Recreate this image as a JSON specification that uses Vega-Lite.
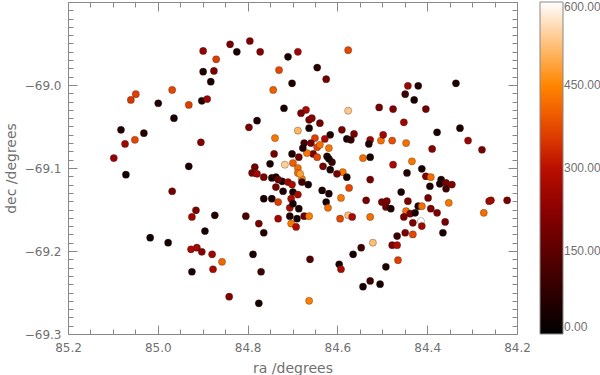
{
  "$schema": "https://vega.github.io/schema/vega-lite/v6.json",
  "width": 449,
  "height": 332,
  "autosize": {"type": "none"},
  "padding": {"left": 68, "top": 2, "right": 83, "bottom": 41},
  "background": "white",
  "config": {
    "view": {"stroke": null},
    "font": "DejaVu Sans",
    "axis": {
      "grid": false,
      "domainColor": "#888888",
      "tickColor": "#888888",
      "labelColor": "#707070",
      "labelFontSize": 12,
      "titleColor": "#707070",
      "titleFontSize": 14,
      "titleFontWeight": "normal",
      "labelOverlap": false,
      "labelFlush": false,
      "labelBound": false
    }
  },
  "data": {
    "values": [
      {"ra": 84.839, "dec": -68.951, "v": 190},
      {"ra": 84.795, "dec": -68.947, "v": 200},
      {"ra": 84.824, "dec": -68.960, "v": 40},
      {"ra": 84.772, "dec": -68.960, "v": 210},
      {"ra": 84.899, "dec": -68.959, "v": 240},
      {"ra": 84.870, "dec": -68.969, "v": 360},
      {"ra": 84.899, "dec": -68.984, "v": 50},
      {"ra": 84.875, "dec": -68.983, "v": 200},
      {"ra": 84.882, "dec": -68.996, "v": 40},
      {"ra": 84.968, "dec": -69.006, "v": 370},
      {"ra": 85.049, "dec": -69.011, "v": 360},
      {"ra": 85.060, "dec": -69.018, "v": 350},
      {"ra": 84.999, "dec": -69.022, "v": 60},
      {"ra": 84.931, "dec": -69.024, "v": 360},
      {"ra": 84.902, "dec": -69.019, "v": 60},
      {"ra": 84.890, "dec": -69.017, "v": 250},
      {"ra": 84.964, "dec": -69.040, "v": 40},
      {"ra": 85.082, "dec": -69.054, "v": 50},
      {"ra": 85.031, "dec": -69.058, "v": 60},
      {"ra": 85.073, "dec": -69.071, "v": 260},
      {"ra": 85.051, "dec": -69.066, "v": 370},
      {"ra": 84.904, "dec": -69.069, "v": 210},
      {"ra": 85.098, "dec": -69.088, "v": 240},
      {"ra": 85.071, "dec": -69.108, "v": 30},
      {"ra": 84.931, "dec": -69.098, "v": 40},
      {"ra": 84.797, "dec": -69.051, "v": 200},
      {"ra": 84.779, "dec": -69.043, "v": 50},
      {"ra": 84.730, "dec": -68.982, "v": 370},
      {"ra": 84.743, "dec": -69.006, "v": 400},
      {"ra": 84.701, "dec": -68.998, "v": 50},
      {"ra": 84.710, "dec": -68.966, "v": 40},
      {"ra": 84.688, "dec": -68.960, "v": 260},
      {"ra": 84.719, "dec": -69.028, "v": 40},
      {"ra": 84.739, "dec": -69.064, "v": 430},
      {"ra": 84.688, "dec": -69.055, "v": 510},
      {"ra": 84.741, "dec": -69.083, "v": 190},
      {"ra": 84.701, "dec": -69.083, "v": 50},
      {"ra": 84.686, "dec": -69.087, "v": 180},
      {"ra": 84.674, "dec": -69.070, "v": 110},
      {"ra": 84.750, "dec": -69.095, "v": 40},
      {"ra": 84.784, "dec": -69.099, "v": 180},
      {"ra": 84.717, "dec": -69.096, "v": 540},
      {"ra": 84.699, "dec": -69.094, "v": 400},
      {"ra": 84.688, "dec": -69.100, "v": 420},
      {"ra": 84.790, "dec": -69.106, "v": 190},
      {"ra": 84.779, "dec": -69.107, "v": 260},
      {"ra": 84.764, "dec": -69.111, "v": 200},
      {"ra": 84.746, "dec": -69.112, "v": 40},
      {"ra": 84.737, "dec": -69.111, "v": 50},
      {"ra": 84.723, "dec": -69.116, "v": 40},
      {"ra": 84.732, "dec": -69.114, "v": 170},
      {"ra": 84.710, "dec": -69.117, "v": 260},
      {"ra": 84.688, "dec": -69.106, "v": 420},
      {"ra": 84.679, "dec": -69.113, "v": 440},
      {"ra": 84.737, "dec": -69.123, "v": 190},
      {"ra": 84.721, "dec": -69.128, "v": 50},
      {"ra": 84.701, "dec": -69.120, "v": 280},
      {"ra": 84.699, "dec": -69.129, "v": 40},
      {"ra": 84.688, "dec": -69.132, "v": 270},
      {"ra": 84.764, "dec": -69.137, "v": 40},
      {"ra": 84.746, "dec": -69.137, "v": 40},
      {"ra": 84.732, "dec": -69.141, "v": 360},
      {"ra": 84.703, "dec": -69.137, "v": 280},
      {"ra": 84.706, "dec": -69.148, "v": 270},
      {"ra": 84.686, "dec": -69.149, "v": 40},
      {"ra": 84.699, "dec": -69.143, "v": 40},
      {"ra": 84.706, "dec": -69.158, "v": 50},
      {"ra": 84.690, "dec": -69.161, "v": 40},
      {"ra": 84.674, "dec": -69.158, "v": 180},
      {"ra": 84.663, "dec": -69.158, "v": 440},
      {"ra": 84.703, "dec": -69.167, "v": 430},
      {"ra": 84.692, "dec": -69.171, "v": 280},
      {"ra": 84.732, "dec": -69.161, "v": 260},
      {"ra": 84.804, "dec": -69.158, "v": 120},
      {"ra": 84.775, "dec": -69.167, "v": 190},
      {"ra": 84.764, "dec": -69.178, "v": 50},
      {"ra": 84.788, "dec": -69.204, "v": 40},
      {"ra": 84.770, "dec": -69.225, "v": 100},
      {"ra": 84.841, "dec": -69.255, "v": 210},
      {"ra": 84.775, "dec": -69.263, "v": 40},
      {"ra": 84.663, "dec": -69.260, "v": 440},
      {"ra": 84.661, "dec": -69.210, "v": 130},
      {"ra": 84.968, "dec": -69.128, "v": 190},
      {"ra": 84.915, "dec": -69.151, "v": 200},
      {"ra": 84.924, "dec": -69.159, "v": 250},
      {"ra": 84.873, "dec": -69.157, "v": 60},
      {"ra": 84.895, "dec": -69.176, "v": 40},
      {"ra": 85.017, "dec": -69.184, "v": 30},
      {"ra": 84.977, "dec": -69.190, "v": 40},
      {"ra": 84.926, "dec": -69.198, "v": 270},
      {"ra": 84.913, "dec": -69.196, "v": 260},
      {"ra": 84.902, "dec": -69.201, "v": 220},
      {"ra": 84.879, "dec": -69.204, "v": 260},
      {"ra": 84.857, "dec": -69.213, "v": 410},
      {"ra": 84.924, "dec": -69.225, "v": 40},
      {"ra": 84.877, "dec": -69.222, "v": 270},
      {"ra": 84.576, "dec": -68.958, "v": 370},
      {"ra": 84.645, "dec": -68.979, "v": 60},
      {"ra": 84.625, "dec": -68.993, "v": 180},
      {"ra": 84.443, "dec": -69.001, "v": 250},
      {"ra": 84.420, "dec": -69.001, "v": 50},
      {"ra": 84.449, "dec": -69.011, "v": 100},
      {"ra": 84.429, "dec": -69.018, "v": 40},
      {"ra": 84.336, "dec": -68.998, "v": 50},
      {"ra": 84.576, "dec": -69.031, "v": 530},
      {"ra": 84.507, "dec": -69.027, "v": 190},
      {"ra": 84.476, "dec": -69.029, "v": 200},
      {"ra": 84.403, "dec": -69.029, "v": 180},
      {"ra": 84.452, "dec": -69.045, "v": 260},
      {"ra": 84.378, "dec": -69.057, "v": 40},
      {"ra": 84.327, "dec": -69.052, "v": 50},
      {"ra": 84.309, "dec": -69.067, "v": 250},
      {"ra": 84.278, "dec": -69.078, "v": 190},
      {"ra": 84.389, "dec": -69.077, "v": 220},
      {"ra": 84.670, "dec": -69.030, "v": 270},
      {"ra": 84.681, "dec": -69.034, "v": 200},
      {"ra": 84.663, "dec": -69.042, "v": 190},
      {"ra": 84.657, "dec": -69.040, "v": 220},
      {"ra": 84.639, "dec": -69.046, "v": 180},
      {"ra": 84.663, "dec": -69.052, "v": 40},
      {"ra": 84.590, "dec": -69.054, "v": 190},
      {"ra": 84.616, "dec": -69.060, "v": 50},
      {"ra": 84.563, "dec": -69.059, "v": 200},
      {"ra": 84.579, "dec": -69.065, "v": 40},
      {"ra": 84.570, "dec": -69.066, "v": 90},
      {"ra": 84.527, "dec": -69.066, "v": 250},
      {"ra": 84.530, "dec": -69.071, "v": 50},
      {"ra": 84.503, "dec": -69.067, "v": 420},
      {"ra": 84.498, "dec": -69.060, "v": 260},
      {"ra": 84.478, "dec": -69.067, "v": 380},
      {"ra": 84.447, "dec": -69.070, "v": 420},
      {"ra": 84.543, "dec": -69.088, "v": 420},
      {"ra": 84.527, "dec": -69.087, "v": 40},
      {"ra": 84.476, "dec": -69.096, "v": 270},
      {"ra": 84.434, "dec": -69.092, "v": 430},
      {"ra": 84.445, "dec": -69.106, "v": 50},
      {"ra": 84.412, "dec": -69.101, "v": 40},
      {"ra": 84.403, "dec": -69.110, "v": 210},
      {"ra": 84.392, "dec": -69.111, "v": 420},
      {"ra": 84.369, "dec": -69.114, "v": 40},
      {"ra": 84.372, "dec": -69.119, "v": 50},
      {"ra": 84.358, "dec": -69.118, "v": 200},
      {"ra": 84.345, "dec": -69.120, "v": 210},
      {"ra": 84.358, "dec": -69.125, "v": 100},
      {"ra": 84.527, "dec": -69.114, "v": 190},
      {"ra": 84.588, "dec": -69.105, "v": 430},
      {"ra": 84.579, "dec": -69.111, "v": 40},
      {"ra": 84.574, "dec": -69.124, "v": 370},
      {"ra": 84.601, "dec": -69.107, "v": 200},
      {"ra": 84.616, "dec": -69.102, "v": 40},
      {"ra": 84.632, "dec": -69.098, "v": 190},
      {"ra": 84.623, "dec": -69.086, "v": 50},
      {"ra": 84.619, "dec": -69.076, "v": 430},
      {"ra": 84.628, "dec": -69.065, "v": 270},
      {"ra": 84.645, "dec": -69.075, "v": 370},
      {"ra": 84.650, "dec": -69.064, "v": 360},
      {"ra": 84.654, "dec": -69.083, "v": 200},
      {"ra": 84.668, "dec": -69.082, "v": 430},
      {"ra": 84.645, "dec": -69.087, "v": 370},
      {"ra": 84.677, "dec": -69.076, "v": 50},
      {"ra": 84.659, "dec": -69.070, "v": 190},
      {"ra": 84.639, "dec": -69.072, "v": 420},
      {"ra": 84.612, "dec": -69.093, "v": 100},
      {"ra": 84.619, "dec": -69.089, "v": 40},
      {"ra": 84.634, "dec": -69.127, "v": 40},
      {"ra": 84.619, "dec": -69.131, "v": 50},
      {"ra": 84.625, "dec": -69.141, "v": 40},
      {"ra": 84.592, "dec": -69.136, "v": 430},
      {"ra": 84.621, "dec": -69.148, "v": 420},
      {"ra": 84.594, "dec": -69.161, "v": 370},
      {"ra": 84.576, "dec": -69.157, "v": 520},
      {"ra": 84.567, "dec": -69.159, "v": 270},
      {"ra": 84.536, "dec": -69.139, "v": 190},
      {"ra": 84.527, "dec": -69.159, "v": 420},
      {"ra": 84.521, "dec": -69.190, "v": 520},
      {"ra": 84.547, "dec": -69.196, "v": 100},
      {"ra": 84.565, "dec": -69.204, "v": 40},
      {"ra": 84.596, "dec": -69.216, "v": 50},
      {"ra": 84.592, "dec": -69.222, "v": 270},
      {"ra": 84.543, "dec": -69.243, "v": 40},
      {"ra": 84.527, "dec": -69.236, "v": 100},
      {"ra": 84.505, "dec": -69.240, "v": 40},
      {"ra": 84.492, "dec": -69.219, "v": 50},
      {"ra": 84.465, "dec": -69.211, "v": 360},
      {"ra": 84.478, "dec": -69.193, "v": 200},
      {"ra": 84.467, "dec": -69.193, "v": 280},
      {"ra": 84.467, "dec": -69.182, "v": 100},
      {"ra": 84.449, "dec": -69.178, "v": 200},
      {"ra": 84.432, "dec": -69.180, "v": 370},
      {"ra": 84.501, "dec": -69.141, "v": 190},
      {"ra": 84.490, "dec": -69.140, "v": 200},
      {"ra": 84.492, "dec": -69.147, "v": 180},
      {"ra": 84.481, "dec": -69.149, "v": 50},
      {"ra": 84.458, "dec": -69.129, "v": 40},
      {"ra": 84.443, "dec": -69.140, "v": 200},
      {"ra": 84.447, "dec": -69.152, "v": 420},
      {"ra": 84.452, "dec": -69.159, "v": 190},
      {"ra": 84.438, "dec": -69.155, "v": 200},
      {"ra": 84.427, "dec": -69.154, "v": 40},
      {"ra": 84.432, "dec": -69.166, "v": 200},
      {"ra": 84.420, "dec": -69.146, "v": 50},
      {"ra": 84.412, "dec": -69.146, "v": 420},
      {"ra": 84.414, "dec": -69.164, "v": 600},
      {"ra": 84.412, "dec": -69.170, "v": 260},
      {"ra": 84.398, "dec": -69.136, "v": 190},
      {"ra": 84.392, "dec": -69.149, "v": 200},
      {"ra": 84.378, "dec": -69.154, "v": 200},
      {"ra": 84.360, "dec": -69.165, "v": 190},
      {"ra": 84.365, "dec": -69.178, "v": 40},
      {"ra": 84.352, "dec": -69.142, "v": 430},
      {"ra": 84.394, "dec": -69.122, "v": 40},
      {"ra": 84.274, "dec": -69.154, "v": 420},
      {"ra": 84.262, "dec": -69.140, "v": 270},
      {"ra": 84.258, "dec": -69.139, "v": 260},
      {"ra": 84.222, "dec": -69.139, "v": 190},
      {"ra": 84.683, "dec": -69.107, "v": 480},
      {"ra": 84.679, "dec": -69.117, "v": 100},
      {"ra": 84.665, "dec": -69.120, "v": 40}
    ]
  },
  "layer": [
    {
      "mark": {"type": "circle", "size": 52, "opacity": 1, "stroke": "#222222", "strokeWidth": 0.5, "strokeOpacity": 0.6},
      "encoding": {
        "x": {
          "field": "ra", "type": "quantitative",
          "scale": {"domain": [84.2, 85.2], "reverse": true, "nice": false, "zero": false},
          "axis": {
            "orient": "bottom",
            "title": "ra /degrees",
            "values": [84.2,84.25,84.3,84.35,84.4,84.45,84.5,84.55,84.6,84.65,84.7,84.75,84.8,84.85,84.9,84.95,85,85.05,85.1,85.15,85.2],
            "labelExpr": "abs(datum.value*5-round(datum.value*5))<0.01 ? format(datum.value,'.1f') : ''",
            "tickSize": {"condition": {"test": "abs(datum.value*5-round(datum.value*5))<0.01", "value": -9}, "value": -5},
            "labelPadding": 17,
            "titlePadding": 4
          }
        },
        "y": {
          "field": "dec", "type": "quantitative",
          "scale": {"domain": [-69.3, -68.9], "nice": false, "zero": false},
          "axis": {
            "orient": "left",
            "title": "dec /degrees",
            "values": [-69.3,-69.29,-69.28,-69.27,-69.26,-69.25,-69.24,-69.23,-69.22,-69.21,-69.2,-69.19,-69.18,-69.17,-69.16,-69.15,-69.14,-69.13,-69.12,-69.11,-69.1,-69.09,-69.08,-69.07,-69.06,-69.05,-69.04,-69.03,-69.02,-69.01,-69,-68.99,-68.98,-68.97,-68.96,-68.95,-68.94,-68.93,-68.92,-68.91,-68.9],
            "labelExpr": "abs(datum.value*10-round(datum.value*10))<0.01 && datum.value < -68.95 ? format(datum.value,'.1f') : ''",
            "tickSize": {"condition": {"test": "abs(datum.value*10-round(datum.value*10))<0.01", "value": -9}, "value": -5},
            "labelPadding": 16,
            "titlePadding": 6
          }
        },
        "color": {
          "field": "v", "type": "quantitative",
          "scale": {
            "domain": [0, 75, 150, 225, 300, 375, 450, 525, 600],
            "range": ["#000000", "#2e0000", "#5d0000", "#8c0000", "#ba0f00", "#e84a00", "#ff8600", "#ffc27d", "#ffffff"],
            "interpolate": "rgb"
          },
          "legend": {
            "title": null,
            "orient": "none",
            "legendX": 472,
            "legendY": 0,
            "direction": "vertical",
            "gradientLength": 332,
            "gradientThickness": 23,
            "gradientStrokeColor": "#888888",
            "gradientStrokeWidth": 1,
            "values": [0, 150, 300, 450, 600],
            "format": ".2f",
            "labelFont": "Liberation Sans",
            "labelFontSize": 12,
            "labelColor": "#707070",
            "labelOffset": 1,
            "labelBaseline": "middle",
            "labelOverlap": false,
            "padding": 0
          }
        }
      }
    },
    {
      "mark": {"type": "point", "opacity": 0},
      "encoding": {
        "x": {
          "field": "ra", "type": "quantitative",
          "axis": {
            "orient": "top",
            "title": null,
            "labels": false,
            "values": [84.2,84.25,84.3,84.35,84.4,84.45,84.5,84.55,84.6,84.65,84.7,84.75,84.8,84.85,84.9,84.95,85,85.05,85.1,85.15,85.2],
            "tickSize": {"condition": {"test": "abs(datum.value*5-round(datum.value*5))<0.01", "value": -9}, "value": -5}
          }
        },
        "y": {
          "field": "dec", "type": "quantitative",
          "axis": {
            "orient": "right",
            "title": null,
            "labels": false,
            "values": [-69.3,-69.29,-69.28,-69.27,-69.26,-69.25,-69.24,-69.23,-69.22,-69.21,-69.2,-69.19,-69.18,-69.17,-69.16,-69.15,-69.14,-69.13,-69.12,-69.11,-69.1,-69.09,-69.08,-69.07,-69.06,-69.05,-69.04,-69.03,-69.02,-69.01,-69,-68.99,-68.98,-68.97,-68.96,-68.95,-68.94,-68.93,-68.92,-68.91,-68.9],
            "tickSize": {"condition": {"test": "abs(datum.value*10-round(datum.value*10))<0.01", "value": -9}, "value": -5}
          }
        }
      }
    }
  ]
}
